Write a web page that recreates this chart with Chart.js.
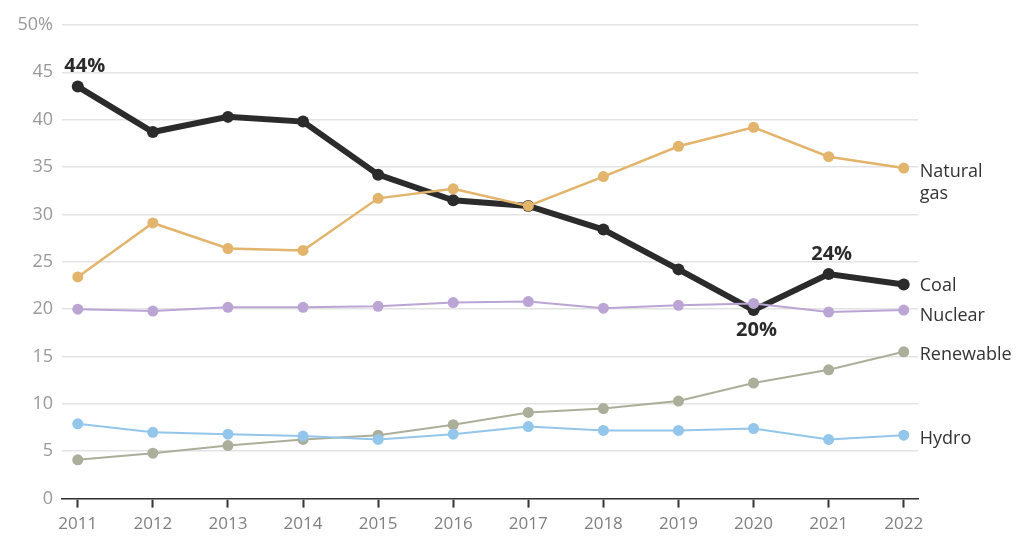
<!DOCTYPE html>
<html>
<head>
<meta charset="utf-8">
<script src="https://cdn.jsdelivr.net/npm/chart.js@4.4.1/dist/chart.umd.min.js"></script>
<style>
  html, body { margin: 0; padding: 0; background: #fff; }
  #wrap { width: 1024px; height: 550px; }
</style>
</head>
<body>
<div id="wrap"><canvas id="chart"></canvas></div>
<script>
const years = [2011, 2012, 2013, 2014, 2015, 2016, 2017, 2018, 2019, 2020, 2021, 2022];
const coal = [43.5, 38.7, 40.3, 39.8, 34.2, 31.5, 30.9, 28.4, 24.2, 19.9, 23.7, 22.6];
const naturalGas = [23.4, 29.1, 26.4, 26.2, 31.7, 32.7, 30.9, 34.0, 37.2, 39.2, 36.1, 34.9];
const nuclear = [20.0, 19.8, 20.2, 20.2, 20.3, 20.7, 20.8, 20.1, 20.4, 20.6, 19.7, 19.9];
const renewable = [4.1, 4.8, 5.6, 6.25, 6.7, 7.8, 9.1, 9.5, 10.3, 12.2, 13.6, 15.5];
const hydro = [7.9, 7.0, 6.8, 6.6, 6.25, 6.8, 7.6, 7.2, 7.2, 7.4, 6.25, 6.7];
const yTicks = [0, 5, 10, 15, 20, 25, 30, 35, 40, 45, 50];

const FONT = '"Open Sans", "Noto Sans", sans-serif';

const toPoints = (vals) => vals.map((v, i) => ({ x: years[i], y: v }));

function line(label, vals, color, width, radius, endLabel, dy) {
  return {
    label: label,
    data: toPoints(vals),
    borderColor: color,
    backgroundColor: color,
    borderWidth: width,
    pointRadius: radius,
    pointHoverRadius: radius,
    pointBorderWidth: 0,
    tension: 0,
    endLabel: endLabel,
    endDy: dy
  };
}

// Order: thin lines first, coal on top
const datasets = [
  line('Hydro', hydro, '#93c6ea', 2, 5.5, ['Hydro'], 4),
  line('Renewable', renewable, '#abae9a', 2, 5.5, ['Renewable'], 3),
  line('Nuclear', nuclear, '#baa5d5', 2, 5.5, ['Nuclear'], 6),
  line('Natural gas', naturalGas, '#e2b46c', 2.5, 5.5, ['Natural', 'gas'], 4),
  line('Coal', coal, '#2b2b2b', 6, 6, ['Coal'], 1)
];

// [dataset label, year index, text, above/below]
const callouts = [
  ['Coal', 0, '44%', -1],
  ['Coal', 9, '20%', 1],
  ['Coal', 10, '24%', -1]
];

const labelsPlugin = {
  id: 'labelsPlugin',
  afterDatasetsDraw(chart) {
    const ctx = chart.ctx;
    const xs = chart.scales.x;
    const ys = chart.scales.y;
    ctx.save();
    ctx.textBaseline = 'middle';
    ctx.textAlign = 'left';
    ctx.font = '18px ' + FONT;
    ctx.fillStyle = '#333';
    chart.data.datasets.forEach((ds) => {
      const last = ds.data[ds.data.length - 1];
      const px = xs.getPixelForValue(last.x) + 16;
      const py = ys.getPixelForValue(last.y) + ds.endDy;
      ds.endLabel.forEach((t, i) => ctx.fillText(t, px, py + i * 22));
    });
    ctx.font = 'bold 20px ' + FONT;
    ctx.textAlign = 'center';
    ctx.fillStyle = '#2b2b2b';
    callouts.forEach(([name, idx, text, dir]) => {
      const ds = chart.data.datasets.find((d) => d.label === name);
      const pt = ds.data[idx];
      const px = xs.getPixelForValue(pt.x);
      const py = ys.getPixelForValue(pt.y) + dir * 20;
      ctx.fillText(text, px + (idx === 0 ? 7 : 3), py);
    });
    ctx.restore();
  }
};

new Chart(document.getElementById('chart').getContext('2d'), {
  type: 'line',
  data: { datasets: datasets },
  plugins: [labelsPlugin],
  options: {
    responsive: true,
    maintainAspectRatio: false,
    animation: false,
    layout: { padding: { top: 25, right: 106, bottom: 10, left: 0 } },
    plugins: {
      legend: { display: false },
      tooltip: { enabled: false }
    },
    scales: {
      x: {
        type: 'linear',
        min: 2010.79,
        max: 2022.19,
        afterBuildTicks: (scale) => {
          scale.ticks = years.map((y) => ({ value: y }));
        },
        grid: {
          drawOnChartArea: false,
          drawTicks: true,
          tickLength: 9,
          tickWidth: 2,
          tickColor: '#333'
        },
        border: { display: true, color: '#333', width: 1.5 },
        ticks: {
          color: '#808080',
          font: { family: FONT, size: 17 },
          padding: 6,
          callback: (v) => String(v),
          maxRotation: 0,
          autoSkip: false
        }
      },
      y: {
        min: 0,
        max: 50,
        afterBuildTicks: (scale) => {
          scale.ticks = yTicks.map((v) => ({ value: v }));
        },
        afterFit: (scale) => { scale.width = 62; },
        grid: {
          color: '#e3e3e3',
          lineWidth: 1.5,
          drawTicks: false
        },
        border: { display: false },
        ticks: {
          color: '#999',
          font: { family: FONT, size: 18 },
          padding: 9,
          callback: (v) => (v === 50 ? '50%' : String(v))
        }
      }
    }
  }
});
</script>
</body>
</html>
